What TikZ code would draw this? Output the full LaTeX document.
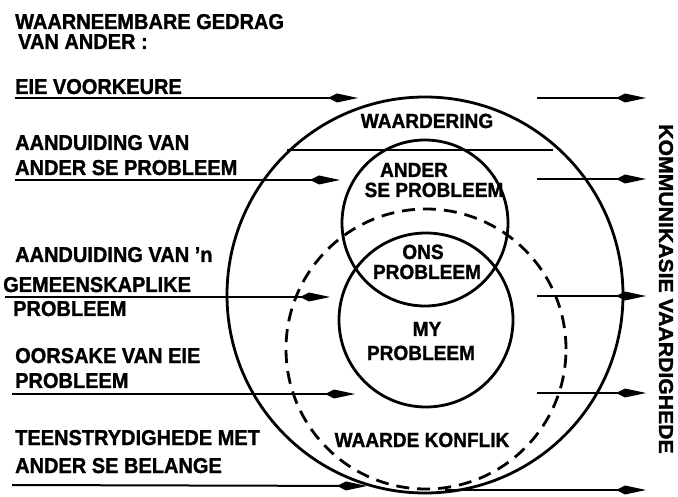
\documentclass[tikz,border=0pt]{standalone}
\usepackage{fontspec}
\setmainfont{Liberation Sans}
\newfontfamily\letfont{Liberation Sans}[FakeStretch=0.93, BoldFeatures={FakeBold=1.3}]
\usetikzlibrary{arrows.meta}

\tikzset{
  lbl/.style={anchor=base west, inner sep=0pt, font=\letfont\fontsize{21.5}{25}\selectfont\bfseries},
  tag/.style={anchor=base, inner sep=0pt, font=\letfont\fontsize{20.5}{24}\selectfont\bfseries},
  arr/.style={line width=2pt, -{Kite[length=30pt,width=9pt,inset=9pt]}},
  ring/.style={line width=2.8pt},
}

\begin{document}
\begin{tikzpicture}[x=1pt,y=-1pt]
            \useasboundingbox (0,0) rectangle (678,497);

            % centres of the rings
            \coordinate (Cout) at (425,295);
            \coordinate (Cand) at (425,223);
            \coordinate (Cmy) at (426,320);
            \coordinate (Cwk) at (426,349);

            \draw[ring] (Cout) circle[radius=198pt];
            \draw[ring] (Cand) circle[radius=83pt];
            \draw[ring] (Cmy) circle[radius=87pt];
            \draw[ring, dash pattern=on 13pt off 8pt] (Cwk) circle[radius=140pt];

            % chord under WAARDERING
            \coordinate (Ch1) at (287,150);
            \coordinate (Ch2) at (553,150);
            \draw[line width=2pt] (Ch1)--(Ch2);

            % left arrows
            \coordinate (L1) at (15,98);  \coordinate (T1) at (358,98);
            \coordinate (L2) at (15,180); \coordinate (T2) at (340,180);
            \coordinate (L3) at (5,297);  \coordinate (T3) at (330,297);
            \coordinate (L4) at (12,394); \coordinate (T4) at (355,394);
            \coordinate (L5) at (12,485); \coordinate (T5) at (367,486);
            \draw[arr] (L1)--(T1);
            \draw[arr] (L2)--(T2);
            \draw[arr] (L3)--(T3);
            \draw[arr] (L4)--(T4);
            \draw[arr] (L5)--(T5);

            % right arrows
            \coordinate (R1) at (537,98);  \coordinate (S1) at (646,98);
            \coordinate (R2) at (537,179); \coordinate (S2) at (646,179);
            \coordinate (R3) at (537,296); \coordinate (S3) at (646,296);
            \coordinate (R4) at (537,393); \coordinate (S4) at (646,393);
            \coordinate (R5) at (445,490); \coordinate (S5) at (646,490);
            \draw[arr] (R1)--(S1);
            \draw[arr] (R2)--(S2);
            \draw[arr] (R3)--(S3);
            \draw[arr] (R4)--(S4);
            \draw[arr] (R5)--(S5);

            % behaviour labels
            \node[lbl] (head1) at (15,29) {WAARNEEMBARE GEDRAG};
            \node[lbl] (head2) at (18,49) {VAN ANDER :};
            \node[lbl] (eie) at (15,94) {EIE VOORKEURE};
            \node[lbl] (aand1) at (15,150) {AANDUIDING VAN};
            \node[lbl] (aand2) at (15,175) {ANDER SE PROBLEEM};
            \node[lbl] (gem1) at (15,262) {AANDUIDING VAN ’n};
            \node[lbl] (gem2) at (3,292) {GEMEENSKAPLIKE};
            \node[lbl] (gem3) at (13,316) {PROBLEEM};
            \node[lbl] (oor1) at (15,363) {OORSAKE VAN EIE};
            \node[lbl] (oor2) at (15,388) {PROBLEEM};
            \node[lbl] (teen1) at (15,445) {TEENSTRYDIGHEDE MET};
            \node[lbl] (teen2) at (15,473) {ANDER SE BELANGE};

            % ring labels
            \node[tag] (waard) at (427,128) {WAARDERING};
            \node[tag] (ander1) at (414,177) {ANDER};
            \node[tag] (ander2) at (434,197) {SE PROBLEEM};
            \node[tag] (ons1) at (423,259) {ONS};
            \node[tag] (ons2) at (427,279) {PROBLEEM};
            \node[tag] (my1) at (427,336) {MY};
            \node[tag] (my2) at (421,360) {PROBLEEM};
            \node[tag] (konf) at (422,447) {WAARDE KONFLIK};

            \node[inner sep=0pt, rotate=-90, font=\letfont\fontsize{20}{24}\selectfont\bfseries] (komm) at (666,289)
              {\scalebox{1.14}[1]{KOMMUNIKASIE VAARDIGHEDE}};
        \end{tikzpicture}
\end{document}
